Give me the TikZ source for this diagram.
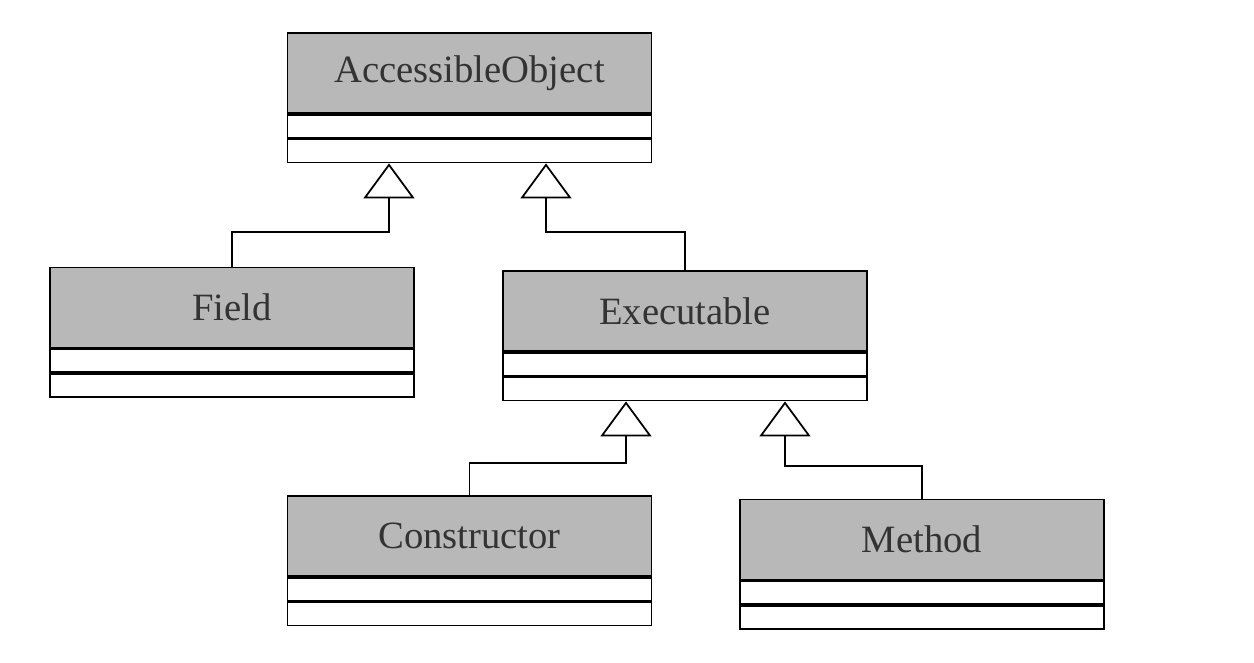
\documentclass[tikz,border=0pt]{standalone}
\usepackage{fontspec}
\setmainfont{Liberation Serif}
\usepackage{xcolor}
\usetikzlibrary{arrows.meta,positioning}

\begin{document}
\begin{tikzpicture}[
  head/.style={draw, line width=1pt, fill=black!28, text=black!80, minimum width=7.28cm, minimum height=1.6cm, inner sep=0pt, font=\fontsize{22}{26}\selectfont},
  part/.style={draw, line width=1pt, fill=white, minimum width=7.28cm, minimum height=0.46cm, inner sep=0pt},
  inh/.style={-{Triangle[open, length=0.7cm, width=1.02cm, line width=1pt]}, line width=1pt}
]
\useasboundingbox (0,0) rectangle (25.08,-13.24);
\node[head] (ao) at (9.39, -1.46) {AccessibleObject};
\node[part, below=0pt of ao] (ao2) {};
\node[part, below=0pt of ao2] (ao3) {};
\node[head] (field) at (4.64, -6.15) {Field};
\node[part, below=0pt of field] (field2) {};
\node[part, below=0pt of field2] (field3) {};
\node[head] (exe) at (13.7, -6.22) {Executable};
\node[part, below=0pt of exe] (exe2) {};
\node[part, below=0pt of exe2] (exe3) {};
\node[head] (ctor) at (9.39, -10.72) {Constructor};
\node[part, below=0pt of ctor] (ctor2) {};
\node[part, below=0pt of ctor2] (ctor3) {};
\node[head] (meth) at (18.44, -10.79) {Method};
\node[part, below=0pt of meth] (meth2) {};
\node[part, below=0pt of meth2] (meth3) {};
\draw[inh] (field.north) -- ++(0,0.7) -| ([xshift=-1.61cm]ao3.south);
\draw[inh] (exe.north) -- ++(0,0.76) -| ([xshift=1.53cm]ao3.south);
\draw[inh] (ctor.north) -- ++(0,0.64) -| ([xshift=-1.18cm]exe3.south);
\draw[inh] (meth.north) -- ++(0,0.66) -| ([xshift=2.0cm]exe3.south);
\end{tikzpicture}
\end{document}
